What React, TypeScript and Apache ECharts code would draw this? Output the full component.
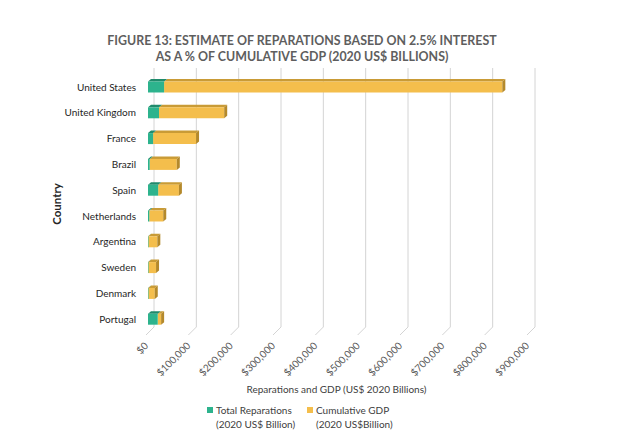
import React, { useEffect, useRef } from "react";
import * as echarts from "echarts";

const categories = [
  "United States",
  "United Kingdom",
  "France",
  "Brazil",
  "Spain",
  "Netherlands",
  "Argentina",
  "Sweden",
  "Denmark",
  "Portugal",
];
const reparations = [38000, 26000, 12000, 4000, 24000, 3000, 500, 500, 500, 23000];
const cumulativeGdp = [799000, 154000, 101500, 64000, 49000, 33000, 21500, 18500, 15500, 8000];
const xTicks = [0, 100000, 200000, 300000, 400000, 500000, 600000, 700000, 800000, 900000];

const TEAL = "#2db38d";
const TEAL_TOP = "#208a6b";
const YELLOW = "#f4be4c";
const YELLOW_TOP = "#c99b36";
const YELLOW_SIDE = "#b4892b";
const FONT = "Lato, 'Open Sans', sans-serif";

function makeBarRender(topColor: string, frontColor: string, sideColor: string | null) {
  return (params: any, api: any) => {
    const i = api.value(0);
    const a = api.coord([api.value(1), i]);
    const b = api.coord([api.value(2), i]);
    const h = 11;
    const dx = 3;
    const dy = 2.5;
    const x0 = a[0] + 2;
    const x1 = b[0] + 2;
    const top = a[1] - h / 2 + 0.5;
    const children: any[] = [
      {
        type: "polygon",
        shape: { points: [[x0, top], [x0 + dx, top - dy], [x1 + dx, top - dy], [x1, top]] },
        style: { fill: topColor },
      },
      { type: "rect", shape: { x: x0, y: top, width: Math.max(x1 - x0, 0.5), height: h }, style: { fill: frontColor } },
    ];
    if (sideColor) {
      children.push({
        type: "polygon",
        shape: { points: [[x1, top], [x1 + dx, top - dy], [x1 + dx, top - dy + h], [x1, top + h]] },
        style: { fill: sideColor },
      });
    }
    return { type: "group", children };
  };
}

export default function App() {
  const ref = useRef<HTMLDivElement>(null);
  useEffect(() => {
    if (!ref.current) return;
    const chart = echarts.init(ref.current, null, { renderer: "svg" });
    const repData = categories.map((_, i) => [i, 0, reparations[i]]);
    const gdpData = categories.map((_, i) => [i, reparations[i], reparations[i] + cumulativeGdp[i]]);
    const option: any = {
      animation: false,
      backgroundColor: "#ffffff",
      title: {
        text: "FIGURE 13: ESTIMATE OF REPARATIONS BASED ON 2.5% INTEREST\nAS A % OF CUMULATIVE GDP (2020 US$ BILLIONS)",
        left: 297,
        top: 27,
        textAlign: "center",
        textStyle: { fontFamily: FONT, fontWeight: "bold", fontSize: 12.4, color: "#5e5e5e", lineHeight: 16 },
      },
      grid: { left: 146, right: 107, top: 73.6, bottom: 116.4, containLabel: false },
      xAxis: {
        type: "value",
        min: 0,
        max: 900000,
        interval: 100000,
        splitLine: { show: false },
        axisLine: { show: false },
        axisTick: { show: false },
        axisLabel: {
          rotate: 45,
          margin: 12,
          color: "#595959",
          fontSize: 10,
          fontFamily: FONT,
          formatter: (v: number) => "$" + v.toLocaleString("en-US"),
        },
        name: "Reparations and GDP (US$ 2020 Billions)",
        nameLocation: "middle",
        nameGap: 50,
        nameTextStyle: { fontFamily: FONT, fontSize: 10, color: "#404040" },
      },
      yAxis: {
        type: "category",
        data: categories,
        inverse: true,
        axisLine: { show: false },
        axisTick: { show: false },
        axisLabel: { margin: 10, color: "#262626", fontSize: 10, fontFamily: FONT },
      },
      series: [
        {
          type: "custom",
          name: "grid",
          silent: true,
          data: xTicks.map((v) => [v, 0]),
          encode: { x: 0, y: 1 },
          renderItem: (params: any, api: any) => {
            const cs = params.coordSys;
            const x = api.coord([api.value(0), 0])[0];
            const bx = x + 8;
            return {
              type: "polyline",
              shape: {
                points: [
                  [bx, cs.y - 5.6],
                  [bx, cs.y + cs.height - 4.6],
                  [x, cs.y + cs.height + 3.4],
                ],
              },
              style: { stroke: "#d4d4d4", lineWidth: 1, fill: "none" },
            };
          },
          z: 1,
        },
        {
          type: "custom",
          name: "Total Reparations (2020 US$ Billion)",
          data: repData,
          encode: { x: [1, 2], y: 0 },
          renderItem: makeBarRender(TEAL_TOP, TEAL, null),
          z: 3,
        },
        {
          type: "custom",
          name: "Cumulative GDP (2020 US$Billion)",
          data: gdpData,
          encode: { x: [1, 2], y: 0 },
          renderItem: makeBarRender(YELLOW_TOP, YELLOW, YELLOW_SIDE),
          z: 2,
        },
      ],
      graphic: [
        {
          type: "text",
          x: 56,
          y: 204,
          rotation: Math.PI / 2,
          style: {
            text: "Country",
            fontFamily: FONT,
            fontSize: 11.5,
            fontWeight: "bold",
            fill: "#262626",
            align: "center",
            verticalAlign: "middle",
          },
        },
        { type: "rect", shape: { x: 207, y: 407, width: 6, height: 6 }, style: { fill: TEAL } },
        {
          type: "text",
          x: 216,
          y: 403,
          style: {
            text: "Total Reparations\n(2020 US$ Billion)",
            fontFamily: FONT,
            fontSize: 10,
            lineHeight: 14,
            fill: "#404040",
          },
        },
        { type: "rect", shape: { x: 307, y: 407, width: 6, height: 6 }, style: { fill: YELLOW } },
        {
          type: "text",
          x: 316,
          y: 403,
          style: {
            text: "Cumulative GDP\n(2020 US$Billion)",
            fontFamily: FONT,
            fontSize: 10,
            lineHeight: 14,
            fill: "#404040",
          },
        },
      ],
    };
    chart.setOption(option);
    return () => chart.dispose();
  }, []);
  return (
    <div
      ref={ref}
      style={{ position: "absolute", left: 0, top: 0, width: 634, height: 448, background: "#fff" }}
    />
  );
}
